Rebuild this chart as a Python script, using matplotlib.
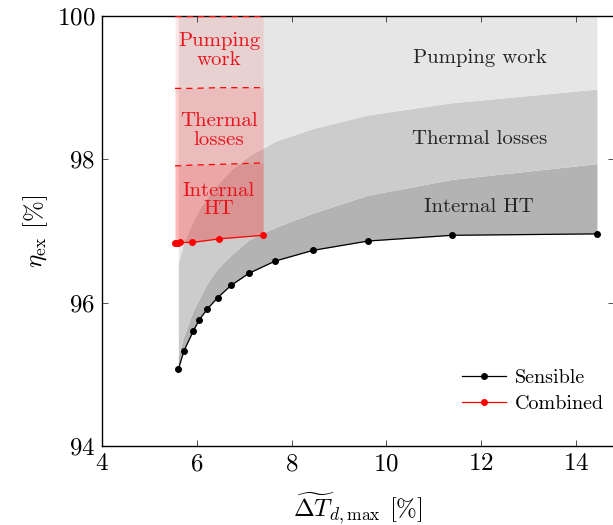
import numpy as np
import matplotlib
matplotlib.use("Agg")
import matplotlib.pyplot as plt

plt.rcParams["font.family"] = "serif"
plt.rcParams["font.serif"] = ["cmr10"]
plt.rcParams["mathtext.fontset"] = "cm"
plt.rcParams["axes.formatter.use_mathtext"] = True

# Sensible storage: max discharge temperature deviation vs exergy efficiency
sens_dT = [5.61, 5.73, 5.93, 6.05, 6.22, 6.44, 6.72, 7.10, 7.65, 8.45, 9.61, 11.38, 14.44]
sens_eta = [95.07, 95.33, 95.61, 95.76, 95.91, 96.07, 96.24, 96.41, 96.58, 96.73, 96.86, 96.94, 96.96]
# cumulative loss boundaries (eta + internal HT, + thermal losses)
sens_ht = [95.25, 95.55, 95.90, 96.05, 96.27, 96.48, 96.66, 96.88, 97.05, 97.25, 97.50, 97.72, 97.94]
sens_th = [96.55, 96.85, 97.15, 97.30, 97.47, 97.65, 97.85, 98.05, 98.25, 98.43, 98.62, 98.79, 98.98]

# Combined storage
comb_dT = [5.54, 5.57, 5.60, 5.64, 5.90, 6.47, 7.40]
comb_eta = [96.83, 96.83, 96.83, 96.84, 96.84, 96.89, 96.94]
comb_ht = [97.91, 97.91, 97.91, 97.91, 97.92, 97.93, 97.95]
comb_th = [98.99, 98.99, 98.99, 98.99, 98.99, 99.00, 99.00]

fig = plt.figure(figsize=(6.13, 5.25), dpi=100)
ax = fig.add_axes([102 / 613, 79 / 525, 512 / 613, 430 / 525])

# grey loss bands for the sensible case
ax.fill_between(sens_dT, sens_eta, sens_ht, color="#b3b3b3", lw=0)
ax.fill_between(sens_dT, sens_ht, sens_th, color="#cccccc", lw=0)
ax.fill_between(sens_dT, sens_th, 100, color="#e6e6e6", lw=0)

# red loss bands for the combined case
ax.fill_between(comb_dT, comb_eta, comb_ht, color="red", alpha=0.28, lw=0)
ax.fill_between(comb_dT, comb_ht, comb_th, color="red", alpha=0.18, lw=0)
ax.fill_between(comb_dT, comb_th, 100, color="red", alpha=0.09, lw=0)
for top in (comb_ht, comb_th, [100] * len(comb_dT)):
    ax.plot(comb_dT, top, color="red", ls=(0, (5, 4)), lw=0.9, zorder=3)

ax.plot(sens_dT, sens_eta, color="black", lw=0.9, marker="o", ms=4, label="Sensible", zorder=4)
ax.plot(comb_dT, comb_eta, color="red", lw=0.9, marker="o", ms=4, label="Combined", zorder=4)

txt = dict(fontsize=15, ha="center", va="center")
ax.text(11.97, 99.42, "Pumping work", color="#262626", **txt)
ax.text(11.97, 98.28, "Thermal losses", color="#262626", **txt)
ax.text(11.95, 97.33, "Internal HT", color="#262626", **txt)
ax.text(6.47, 99.52, "Pumping\nwork", color="#e8141c", linespacing=1.05, **txt)
ax.text(6.47, 98.40, "Thermal\nlosses", color="#e8141c", linespacing=1.05, **txt)
ax.text(6.47, 97.43, "Internal\nHT", color="#e8141c", linespacing=1.05, **txt)

ax.set_xlim(4, 14.8)
ax.set_ylim(94, 100)
ax.set_xticks([4, 6, 8, 10, 12, 14])
ax.set_yticks([94, 96, 98, 100])
ax.tick_params(direction="in", top=True, right=True, length=4, width=0.6,
               labelsize=18, pad=5, colors="#333333", labelcolor="black")
for s in ax.spines.values():
    s.set_linewidth(1.0)
ax.set_xlabel(r"$\widetilde{\Delta T}_{d,\mathrm{max}}$ [%]", fontsize=18, labelpad=11)
ax.set_ylabel(r"$\eta_{\mathrm{ex}}$ [%]", fontsize=18, labelpad=5)

ax.legend(loc="lower right", bbox_to_anchor=(1.015, 0.035), frameon=False,
          fontsize=14.5, handlelength=2.2, handletextpad=0.4, labelspacing=0.4)

fig.savefig("out.png", dpi=100)
